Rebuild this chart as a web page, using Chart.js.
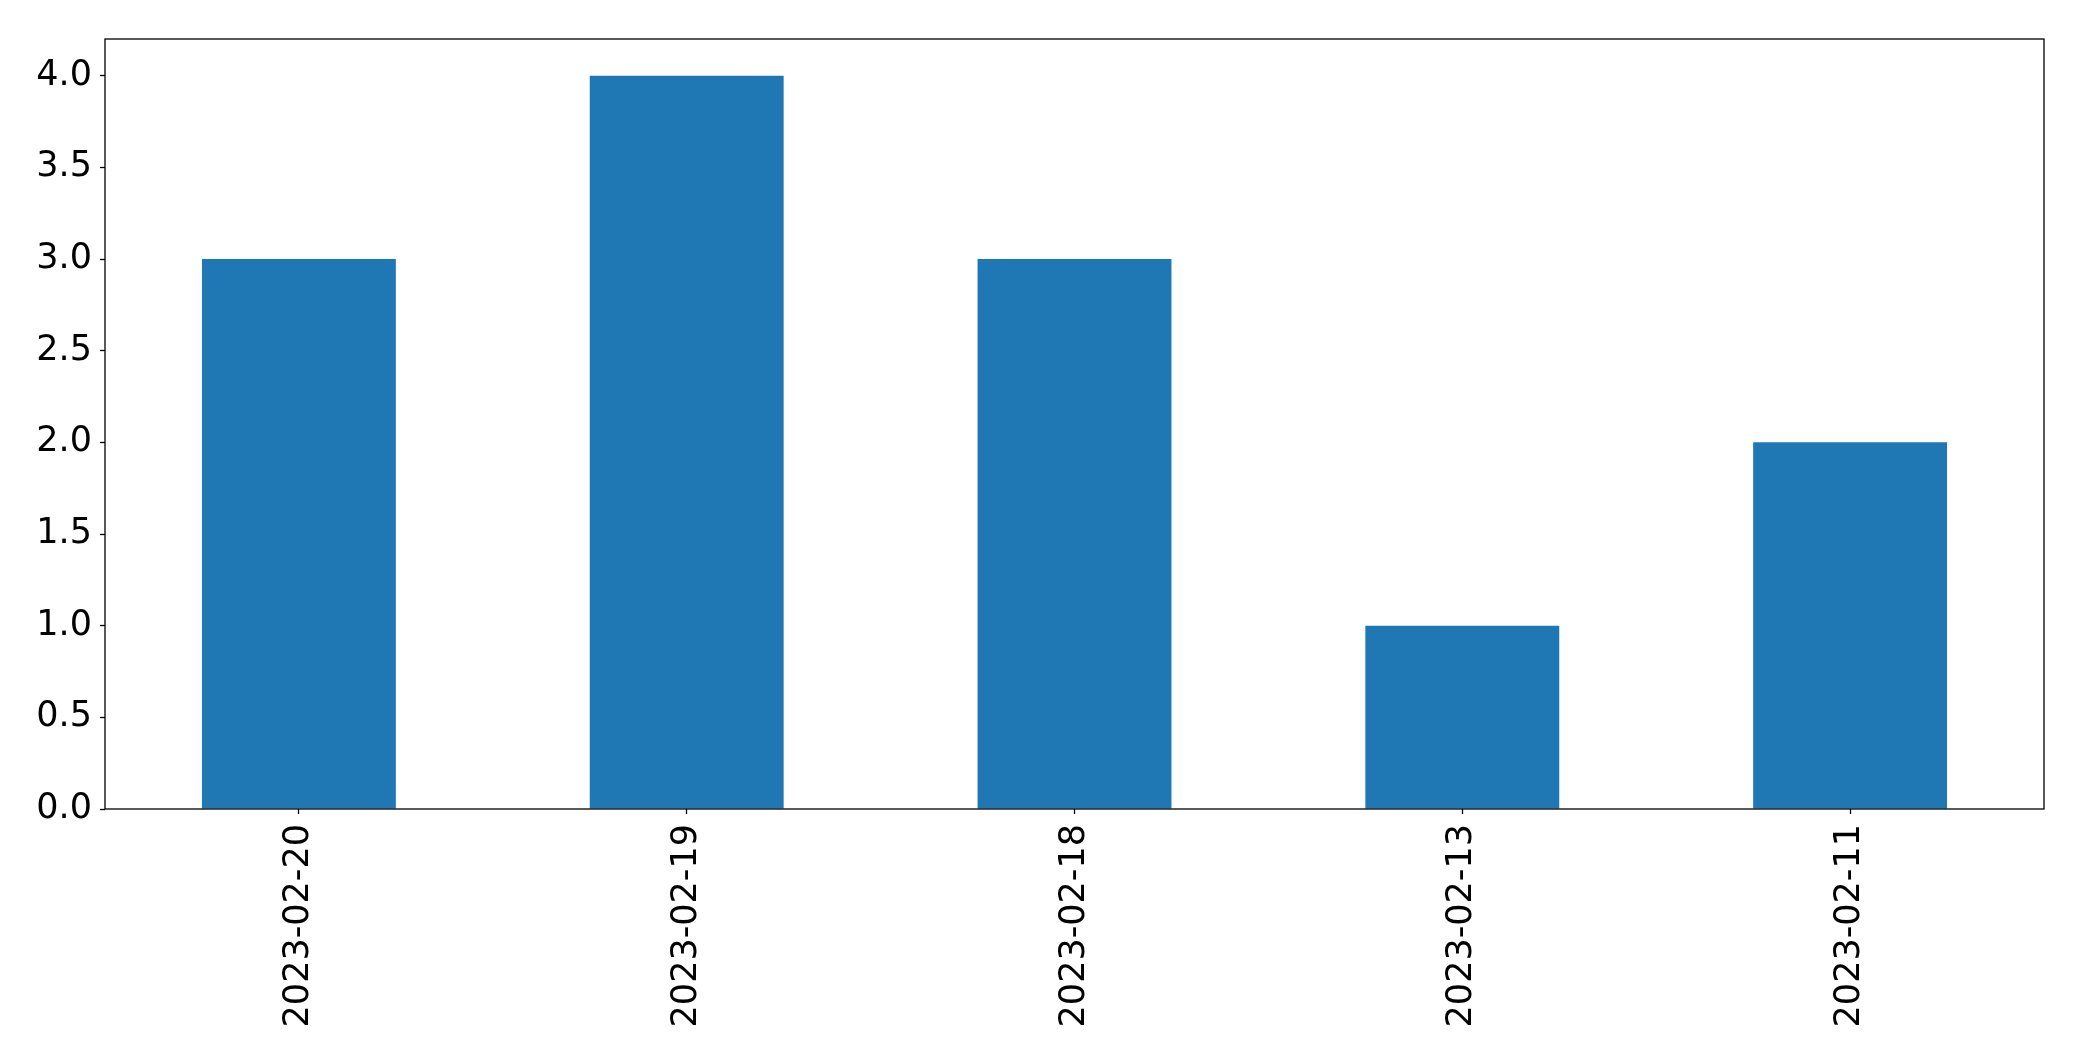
<!DOCTYPE html>
<html>
<head>
<meta charset="utf-8">
<script src="https://cdn.jsdelivr.net/npm/chart.js@4"></script>
<style>
  html, body { margin: 0; padding: 0; background: #fff; }
  canvas { display: block; }
</style>
</head>
<body>
<canvas id="chart" width="2082" height="1061"></canvas>
<script>
// Data
const categories = ["2023-02-20", "2023-02-19", "2023-02-18", "2023-02-13", "2023-02-11"];
const counts = [3, 4, 3, 1, 2];
const yMax = 4.2;

// Draw the full box around the plot area, like matplotlib
const frameBox = {
    id: "frameBox",
    afterDatasetsDraw(chart) {
        const a = chart.chartArea;
        const c = chart.ctx;
        c.save();
        c.strokeStyle = "#000";
        c.lineWidth = 1.3;
        c.strokeRect(a.left, a.top, a.right - a.left, a.bottom - a.top);
        c.restore();
    }
};

const font = { family: "'DejaVu Sans'", size: 35 };

new Chart(document.getElementById("chart").getContext("2d"), {
    type: "bar",
    data: {
        labels: categories,
        datasets: [{
            data: counts,
            backgroundColor: "#1f77b4",
            barPercentage: 0.5,
            categoryPercentage: 1
        }]
    },
    options: {
        responsive: false,
        animation: false,
        layout: { padding: { top: 39, right: 38, left: 0, bottom: 0 } },
        plugins: { legend: { display: false }, tooltip: { enabled: false } },
        scales: {
            x: {
                grid: { offset: false, drawOnChartArea: false, drawTicks: true, tickLength: 5, tickColor: "#000", tickWidth: 1.3 },
                border: { display: false },
                ticks: { color: "#000", font: font, minRotation: 90, maxRotation: 90, padding: 10 },
                afterFit(scale) { scale.height = 252; }
            },
            y: {
                min: 0,
                max: yMax,
                grid: { drawOnChartArea: false, drawTicks: true, tickLength: 5, tickColor: "#000", tickWidth: 1.3 },
                border: { display: false },
                ticks: {
                    color: "#000", font: font, stepSize: 0.5, includeBounds: false, padding: 8,
                    callback: v => v.toFixed(1)
                },
                afterFit(scale) { scale.width = 105; }
            }
        }
    },
    plugins: [frameBox]
});
</script>
</body>
</html>
